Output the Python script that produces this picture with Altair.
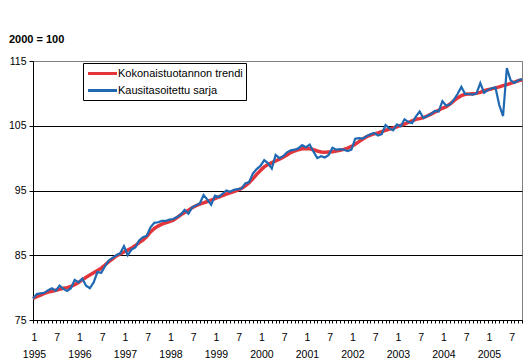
import altair as alt
import pandas as pd

trend = [78.35, 78.6, 78.85, 79.1, 79.3, 79.45, 79.6, 79.75, 79.9, 80.0, 80.2, 80.45,
         80.8, 81.2, 81.6, 81.95, 82.3, 82.65, 83.0, 83.5, 84.0, 84.45, 84.9, 85.2,
         85.5, 85.8, 86.1, 86.5, 86.95, 87.35, 87.9, 88.6, 89.15, 89.5, 89.8, 90.0,
         90.2, 90.4, 90.8, 91.25, 91.6, 91.95, 92.35, 92.65, 92.9, 93.1, 93.3, 93.5,
         93.75, 94.0, 94.2, 94.45, 94.65, 94.85, 95.05, 95.3, 95.7, 96.2, 96.8, 97.5,
         98.1, 98.65, 99.0, 99.3, 99.55, 99.85, 100.15, 100.5, 100.85, 101.1, 101.3, 101.45,
         101.5, 101.45, 101.3, 101.1, 100.95, 100.9, 100.95, 101.0, 101.1, 101.2, 101.35, 101.55,
         101.8, 102.15, 102.55, 102.95, 103.3, 103.55, 103.75, 103.9, 104.1, 104.3, 104.5, 104.65,
         104.85, 105.05, 105.25, 105.5, 105.75, 106.0, 106.1, 106.25, 106.5, 106.8, 107.1, 107.4,
         107.7, 107.95, 108.35, 108.85, 109.3, 109.65, 109.85, 109.9, 109.95, 110.0, 110.15, 110.4,
         110.55, 110.7, 110.85, 111.0, 111.2, 111.35, 111.55, 111.75, 111.95, 112.1]

sa = [78.3, 79.0, 79.1, 79.2, 79.6, 79.9, 79.5, 80.3, 79.8, 79.5, 79.9, 81.2,
      80.8, 81.4, 80.3, 79.9, 80.8, 82.4, 82.3, 83.3, 84.2, 84.6, 85.0, 85.3,
      86.4, 85.0, 85.9, 86.2, 87.3, 87.8, 88.0, 89.3, 90.0, 90.1, 90.3, 90.3,
      90.5, 90.6, 90.9, 91.3, 92.0, 91.4, 92.4, 92.7, 93.0, 94.3, 93.6, 92.8,
      94.2, 94.0, 94.5, 95.0, 94.8, 95.1, 95.2, 95.3, 96.1, 96.3, 97.6, 98.3,
      98.8, 99.7, 99.2, 98.4, 100.5, 100.0, 100.3, 100.9, 101.2, 101.3, 101.5, 102.0,
      101.7, 102.1, 101.0, 100.0, 100.3, 100.1, 100.5, 101.6, 101.3, 101.4, 101.3, 101.1,
      101.3, 103.0, 103.1, 103.0, 103.4, 103.7, 103.9, 103.5, 103.7, 105.1, 104.6, 104.3,
      105.2, 104.9, 106.0, 105.6, 105.4, 106.4, 107.2, 106.2, 106.5, 106.8, 107.3, 107.2,
      108.8, 108.1, 108.3, 109.0, 109.9, 111.0, 109.9, 109.9, 109.8, 110.0, 111.6, 110.1,
      110.5, 110.8, 110.9, 108.2, 106.5, 113.9, 112.0, 111.6, 112.0, 112.2]

series_names = ["Kokonaistuotannon trendi", "Kausitasoitettu sarja"]
series_colors = ["#e2363c", "#1f69b3"]
y_ticks = [75, 85, 95, 105, 115]
first_year = 1995
months = list(range(len(trend)))

df_trend = pd.DataFrame({"m": months, "v": trend, "s": series_names[0]})
df_sa = pd.DataFrame({"m": months, "v": sa, "s": series_names[1]})

FONT = "Liberation Sans"

x_enc = alt.X(
    "m:Q",
    scale=alt.Scale(domain=[0, len(trend) - 1], nice=False, zero=False),
    axis=alt.Axis(
        title=None,
        values=months,
        labelExpr=(
            "datum.value % 12 == 0 ? ['1', '' + (" + str(first_year) + " + datum.value / 12)]"
            " : (datum.value % 12 == 6 ? '7' : '')"
        ),
        grid=False,
        tickSize=3,
        tickColor="black",
        domainColor="black",
        labelColor="black",
        labelFont=FONT,
        labelFontSize=10.5,
        labelPadding=9,
        labelLineHeight=17,
        labelOverlap=False,
        labelFlush=False,
        labelBound=False,
        labelOffset=1,
    ),
)
y_enc = alt.Y(
    "v:Q",
    scale=alt.Scale(domain=[75, 115], nice=False, zero=False),
    axis=alt.Axis(
        title=None,
        values=y_ticks,
        grid=True,
        gridColor={"condition": {"test": "datum.value == 115", "value": "#808080"}, "value": "black"},
        gridOpacity=1,
        tickSize=4,
        tickColor="black",
        domainColor="black",
        labelColor="black",
        labelFont=FONT,
        labelFontSize=10.5,
        labelPadding=3,
    ),
)
color_enc = alt.Color(
    "s:N",
    scale=alt.Scale(domain=series_names, range=series_colors),
    legend=alt.Legend(
        title=None,
        orient="none",
        legendX=50,
        legendY=2,
        symbolType="M-2.5,0H2.5",
        symbolSize=135,
        symbolStrokeWidth=3,
        symbolOffset=9,
        labelFont=FONT,
        labelFontSize=11,
        labelColor="black",
        labelOffset=8,
        padding=3,
        rowPadding=3,
        strokeColor="black",
        fillColor="white",
    ),
)

red = alt.Chart(df_trend).mark_line(strokeWidth=3.5).encode(x=x_enc, y=y_enc, color=color_enc)
blue = alt.Chart(df_sa).mark_line(strokeWidth=2.2).encode(x=x_enc, y=y_enc, color=color_enc)

title = alt.Chart(pd.DataFrame({"t": ["2000 = 100"]})).mark_text(
    font=FONT, fontSize=11, fontWeight="bold", align="left", baseline="alphabetic", color="black"
).encode(x=alt.value(-24), y=alt.value(-18), text="t:N")

chart = alt.layer(red, blue, title).properties(
    width=489,
    height=259,
    autosize=alt.AutoSizeParams(type="none"),
    padding={"left": 25, "top": 53, "right": 1, "bottom": 40},
    background="white",
).configure_view(stroke="#808080", strokeWidth=1)

chart.save("out.html", embed_options={"renderer": "svg", "actions": False})
